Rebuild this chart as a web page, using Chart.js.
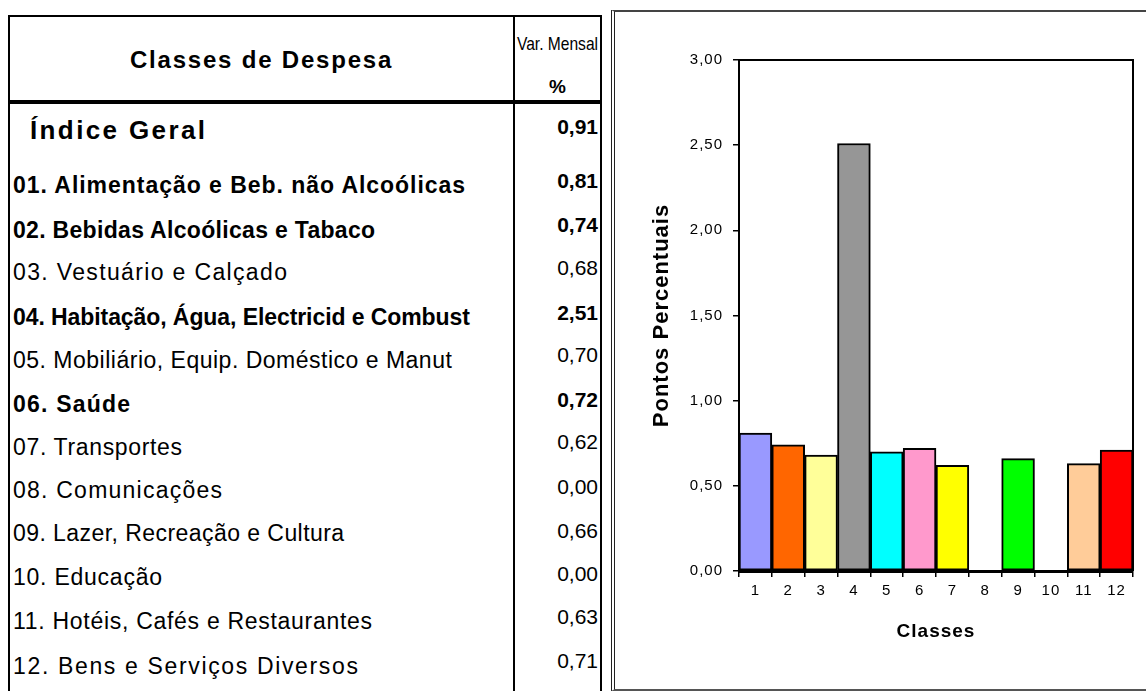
<!DOCTYPE html>
<html lang="pt">
<head>
<meta charset="utf-8">
<title>Classes de Despesa</title>
<script src="https://cdn.jsdelivr.net/npm/chart.js@4.4.0/dist/chart.umd.min.js"></script>
<style>
  html, body { margin: 0; padding: 0; background: #fff; }
  body { width: 1146px; height: 691px; overflow: hidden; position: relative;
         font-family: "Liberation Sans", Arial, sans-serif; color: #000; }
  #tabela { position: absolute; left: 8px; top: 15px; width: 590px; height: 690px;
            border-left: 2px solid #000; border-top: 2px solid #000; border-right: 2px solid #000; }
  #divisor { position: absolute; left: 513px; top: 15px; width: 2px; height: 690px; background: #000; }
  #cabLinha { position: absolute; left: 8px; top: 100px; width: 594px; height: 4px; background: #000; }
  .cab { position: absolute; white-space: nowrap; }
  .lin { position: absolute; left: 13px; height: 30px; line-height: 30px; font-size: 23px; white-space: nowrap; }
  .val { position: absolute; right: 548px; height: 30px; line-height: 30px; font-size: 21px; white-space: nowrap; text-align: right; }
  .b { font-weight: bold; }
  #moldura { position: absolute; left: 611px; top: 10px; width: 560px; height: 677px;
             border-left: 4px double #222; border-top: 2px solid #444; border-bottom: 2px solid #555; }
  #grafico { position: absolute; left: 617px; top: 14px; width: 529px; height: 672px; }
  .estreito { display: inline-block; transform: scaleX(0.82); transform-origin: center; }
</style>
</head>
<body>
<div id="tabela"></div>
<div id="divisor"></div>
<div id="cabLinha"></div>
<div class="cab b" style="left:10px;width:503px;top:46px;text-align:center;font-size:24px;letter-spacing:1.8px;">Classes de Despesa</div>
<div class="cab" style="left:497px;width:121px;top:33px;text-align:center;font-size:19px;"><span class="estreito">Var. Mensal</span></div>
<div class="cab b" style="left:515px;width:85px;top:76px;text-align:center;font-size:19px;">%</div>
<div id="linhas"></div>
<div id="moldura"></div>
<canvas id="grafico" width="529" height="672"></canvas>
<script>
// Classes de despesa e variação mensal (%)
const indiceGeralLabel = 'Índice Geral';
const indiceGeral = 0.91;
const rowLabels = [
  '01. Alimentação e Beb. não Alcoólicas',
  '02. Bebidas Alcoólicas e Tabaco',
  '03. Vestuário e Calçado',
  '04. Habitação, Água, Electricid e Combust',
  '05. Mobiliário, Equip. Doméstico e Manut',
  '06. Saúde',
  '07. Transportes',
  '08. Comunicações',
  '09. Lazer, Recreação e Cultura',
  '10. Educação',
  '11. Hotéis, Cafés e Restaurantes',
  '12. Bens e Serviços Diversos'
];
const rowBold = [true, true, false, true, false, true, false, false, false, false, false, false];
const varMensal = [0.81, 0.74, 0.68, 2.51, 0.70, 0.72, 0.62, 0.00, 0.66, 0.00, 0.63, 0.71];
const classes = ['1', '2', '3', '4', '5', '6', '7', '8', '9', '10', '11', '12'];
const barColors = ['#9999FF', '#FF6600', '#FFFF99', '#969696', '#00FFFF', '#FF99CC',
                   '#FFFF00', '#FFFFFF', '#00FF00', '#000000', '#FFCC99', '#FF0000'];

const fmt = v => v.toFixed(2).replace('.', ',');

// table layout: vertical centre of each row and the right end of each label
const labelY = [185, 230, 272, 317, 360, 404, 447, 490, 533, 577, 621, 666];
const valueY = [181, 225, 268, 313, 355, 400, 442, 487, 531, 574, 617, 661];
const labelEnd = [465, 375, 287, 470, 452, 130, 182, 222, 344, 162, 372, 358];

const linhas = document.getElementById('linhas');
function addDiv(cls, text, top, extra) {
  const d = document.createElement('div');
  d.className = cls;
  d.textContent = text;
  d.style.top = (top - 15) + 'px';
  if (extra) Object.assign(d.style, extra);
  linhas.appendChild(d);
  return d;
}
// spread a label's letters so that it ends at the given x
function spreadTo(d, endX) {
  const r = d.getBoundingClientRect();
  const n = d.textContent.length;
  const ls = (endX - r.right) / Math.max(1, n - 1);
  d.style.letterSpacing = ls.toFixed(2) + 'px';
}
spreadTo(addDiv('lin b', indiceGeralLabel, 130, { left: '30px', fontSize: '26px' }), 205);
addDiv('val b', fmt(indiceGeral), 127);
rowLabels.forEach((t, i) => {
  spreadTo(addDiv('lin' + (rowBold[i] ? ' b' : ''), t, labelY[i]), labelEnd[i]);
  addDiv('val' + (rowBold[i] ? ' b' : ''), fmt(varMensal[i]), valueY[i]);
});

// chart
Chart.defaults.color = '#000';
Chart.defaults.font.family = '"Liberation Sans", Arial, sans-serif';

// slightly wider text spacing on the chart labels
const textSpacing = {
  id: 'textSpacing',
  beforeDraw(chart) { chart.ctx.letterSpacing = '1px'; }
};

const plotBox = {
  id: 'plotBox',
  afterDatasetsDraw(chart) {
    const { ctx, chartArea: a } = chart;
    ctx.save();
    ctx.strokeStyle = '#000';
    ctx.lineWidth = 2;
    ctx.beginPath();
    ctx.moveTo(a.left, a.top);
    ctx.lineTo(a.right, a.top);
    ctx.lineTo(a.right, a.bottom);
    ctx.stroke();
    ctx.restore();
  }
};

new Chart(document.getElementById('grafico'), {
  type: 'bar',
  data: {
    labels: classes,
    datasets: [{
      data: varMensal,
      backgroundColor: barColors,
      borderColor: '#000',
      borderWidth: 2,
      borderSkipped: false,
      categoryPercentage: 1,
      barPercentage: 1
    }]
  },
  options: {
    responsive: false,
    animation: false,
    events: [],
    layout: { padding: { left: 28, right: 13, top: 46, bottom: 39 } },
    plugins: { legend: { display: false }, tooltip: { enabled: false } },
    scales: {
      x: {
        afterFit(s) { s.height = 76; },
        grid: { display: true, offset: true, drawOnChartArea: false, drawTicks: true,
                tickLength: 6, color: '#000', lineWidth: 1.5 },
        border: { display: true, color: '#000', width: 3 },
        ticks: { font: { size: 15 }, padding: 5, maxRotation: 0 },
        title: { display: true, text: 'Classes', font: { size: 19, weight: 'bold' },
                 padding: { top: 0, bottom: 4 } }
      },
      y: {
        min: 0, max: 3,
        afterFit(s) { s.width = 94; },
        grid: { display: true, drawOnChartArea: false, drawTicks: true,
                tickLength: 6, color: '#000', lineWidth: 1.5 },
        border: { display: true, color: '#000', width: 2 },
        ticks: { stepSize: 0.5, font: { size: 15 }, padding: 10, callback: v => fmt(v) },
        title: { display: true, text: 'Pontos Percentuais', font: { size: 22, weight: 'bold' },
                 padding: { top: 4, bottom: 0 } }
      }
    }
  },
  plugins: [textSpacing, plotBox]
});
</script>
</body>
</html>
